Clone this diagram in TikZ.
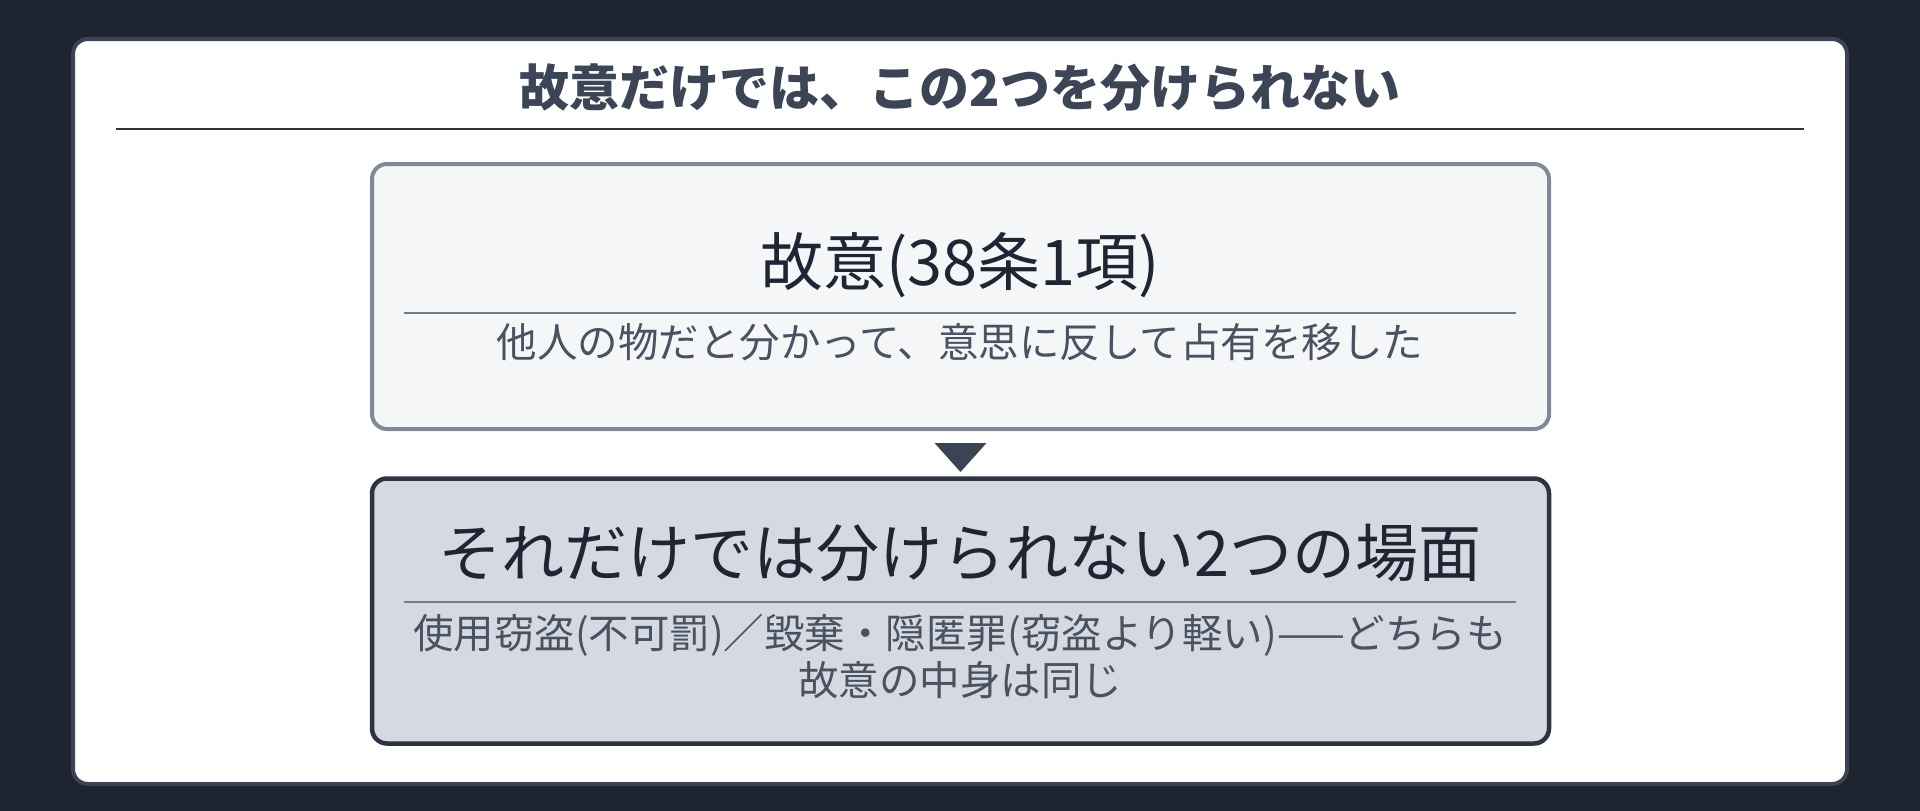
\documentclass[tikz,border=0pt]{standalone}
\usepackage{fontspec}
\setmainfont{Noto Sans CJK JP}
\usetikzlibrary{calc}
\definecolor{bgdark}{HTML}{1E2530}
\definecolor{cardedge}{HTML}{3A4454}
\definecolor{titletext}{HTML}{3B4556}
\definecolor{ruledark}{HTML}{2D3340}
\definecolor{intentfill}{HTML}{F5F6F8}
\definecolor{intentedge}{HTML}{808998}
\definecolor{scenefill}{HTML}{D5DAE2}
\definecolor{sceneedge}{HTML}{2D3340}
\definecolor{subtext}{HTML}{4A5261}
\definecolor{headtext}{HTML}{1F2533}
\definecolor{innerrule}{HTML}{737B88}
\tikzset{
    card/.style={draw=cardedge,line width=4pt,fill=white,rounded corners=15pt},
    heading/.style={font=\fontsize{50}{60}\selectfont\bfseries,text=titletext,inner sep=0pt},
    boxbase/.style={rectangle,rounded corners=15pt,minimum width=1177pt,minimum height=265pt,inner sep=0pt},
    intentbox/.style={boxbase,draw=intentedge,line width=4pt,fill=intentfill},
    scenebox/.style={boxbase,draw=sceneedge,line width=4.5pt,fill=scenefill},
    boxhead/.style={font=\fontsize{63}{70}\selectfont,text=headtext,inner sep=0pt},
    boxsub/.style={font=\fontsize{40.5}{47}\selectfont,text=subtext,inner sep=0pt,align=center},
    innerline/.style={draw=innerrule,line width=2.5pt},
}
\begin{document}
\begin{tikzpicture}[x=1pt,y=-1pt]
	\fill[bgdark] (0,0) rectangle (1920,811);
	\draw[card] (73,39) rectangle (1847,784);

	\node[heading] (title) at (960,88) {故意だけでは、この2つを分けられない};
	\draw[ruledark,line width=2.5pt] (116,129) -- (1804,129);

	% upper box
	\node[intentbox] (intent) at (960.5,296.5) {};
	\node[boxhead] (intenthead) at (960,265) {故意(38条1項)};
	\draw[innerline] (404,313) -- (1516,313);
	\node[boxsub] (intentsub) at (960,342) {他人の物だと分かって、意思に反して占有を移した};

	% marker
	\fill[cardedge] ($(intent.south)+(-26,12)$) -- ++(52,0) -- ($(intent.south)+(0,41)$) -- cycle;

	% lower box
	\node[scenebox] (scene) at (960.5,611) {};
	\node[boxhead] (scenehead) at (960,553) {それだけでは分けられない2つの場面};
	\draw[innerline] (404,602) -- (1516,602);
	\node[boxsub] (scenesub) at (960,657) {使用窃盗(不可罰)／毀棄・隠匿罪(窃盗より軽い)——どちらも\\故意の中身は同じ};
\end{tikzpicture}
\end{document}
